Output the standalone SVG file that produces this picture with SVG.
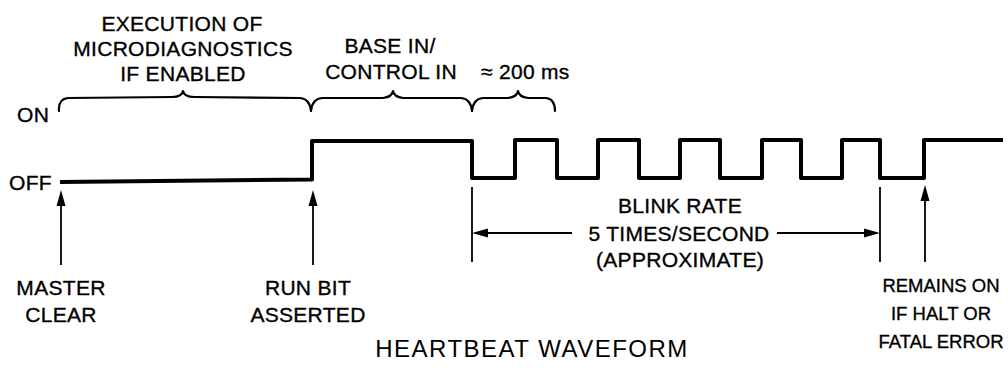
<svg xmlns="http://www.w3.org/2000/svg" width="1008" height="374" viewBox="0 0 1008 374">
<defs>
<style>
.t{font-family:"Liberation Sans",Arial,sans-serif;font-size:21px;fill:#000;stroke:#000;stroke-width:0.35;letter-spacing:0.3px}
.c{text-anchor:middle}
.r{letter-spacing:0px;font-size:18.5px}
.title{font-family:"Liberation Sans",Arial,sans-serif;font-size:24px;fill:#000;letter-spacing:1.5px;text-anchor:middle}
.brace{fill:none;stroke:#000;stroke-width:2.2;stroke-linecap:round;stroke-linejoin:round}
.wave{fill:none;stroke:#000;stroke-width:4;stroke-linejoin:round;stroke-linecap:butt}
.thin{fill:none;stroke:#000;stroke-width:1.8}
.ah{fill:#000;stroke:none}
</style>
</defs>
<rect width="1008" height="374" fill="#fff"/>

<g id="top-labels">
<text class="t c" x="182" y="31">EXECUTION OF</text>
<text class="t c" x="183" y="56">MICRODIAGNOSTICS</text>
<text class="t c" x="183" y="81">IF ENABLED</text>
<text class="t c" x="390" y="53">BASE IN/</text>
<text class="t c" x="391" y="79">CONTROL IN</text>
<text class="t" x="481" y="79">≈ 200 ms</text>
</g>

<g id="braces">
<path class="brace" d="M59,111 Q58,99 68,98 L172,97 Q182,97 183,91 Q184,97 194,97 L300,98 Q310,99 311,111"/>
<path class="brace" d="M311,111 Q312,99 322,98 L383,98 Q392,97 393,91 Q394,97 403,98 L461,98 Q471,99 472,111"/>
<path class="brace" d="M472,111 Q473,99 483,98 L508,98 Q517,97 518,91 Q519,97 528,98 L546,98 Q555,99 555,111"/>
</g>

<g id="axis-labels">
<text class="t" x="17" y="122">ON</text>
<text class="t" x="9" y="190">OFF</text>
</g>

<g id="waveform">
<path class="wave" d="M60,182 L312,179.5 L312,141 L472,141 L472,178 L515,178 L515,140 L557,140 L557,178 L598,178 L598,140 L639,140 L639,178 L680,178 L680,140 L720,140 L720,178 L762,178 L762,140 L801,140 L801,178 L842,178 L842,140 L880,140 L880,178 L924,178 L924,140 L1003,140"/>
</g>

<g id="connectors">
<line class="thin" x1="61" y1="204" x2="61" y2="265"/>
<polygon class="ah" points="61,190 56.5,206 65.5,206"/>
<line class="thin" x1="313" y1="204" x2="313" y2="265"/>
<polygon class="ah" points="313,190 308.5,206 317.5,206"/>
<line class="thin" x1="925" y1="199" x2="925" y2="262"/>
<polygon class="ah" points="925,185 920.5,201 929.5,201"/>
<line class="thin" x1="472" y1="187" x2="472" y2="262"/>
<line class="thin" x1="880" y1="187" x2="880" y2="262"/>
<line class="thin" x1="484" y1="233" x2="572" y2="233"/>
<polygon class="ah" points="472,233 488,228.5 488,237.5"/>
<line class="thin" x1="777" y1="233" x2="868" y2="233"/>
<polygon class="ah" points="880,233 864,228.5 864,237.5"/>
</g>

<g id="event-labels">
<text class="t c" x="61" y="295">MASTER</text>
<text class="t c" x="61" y="322">CLEAR</text>
<text class="t c" x="308" y="295">RUN BIT</text>
<text class="t c" x="308" y="322">ASSERTED</text>
<text class="t c" x="680" y="213">BLINK RATE</text>
<text class="t c" x="679" y="241">5 TIMES/SECOND</text>
<text class="t c" x="680" y="267">(APPROXIMATE)</text>
<text class="t c r" x="941" y="292">REMAINS ON</text>
<text class="t c r" x="941" y="320">IF HALT OR</text>
<text class="t c r" x="941" y="348">FATAL ERROR</text>
</g>

<text class="title" x="532" y="357">HEARTBEAT WAVEFORM</text>
</svg>
